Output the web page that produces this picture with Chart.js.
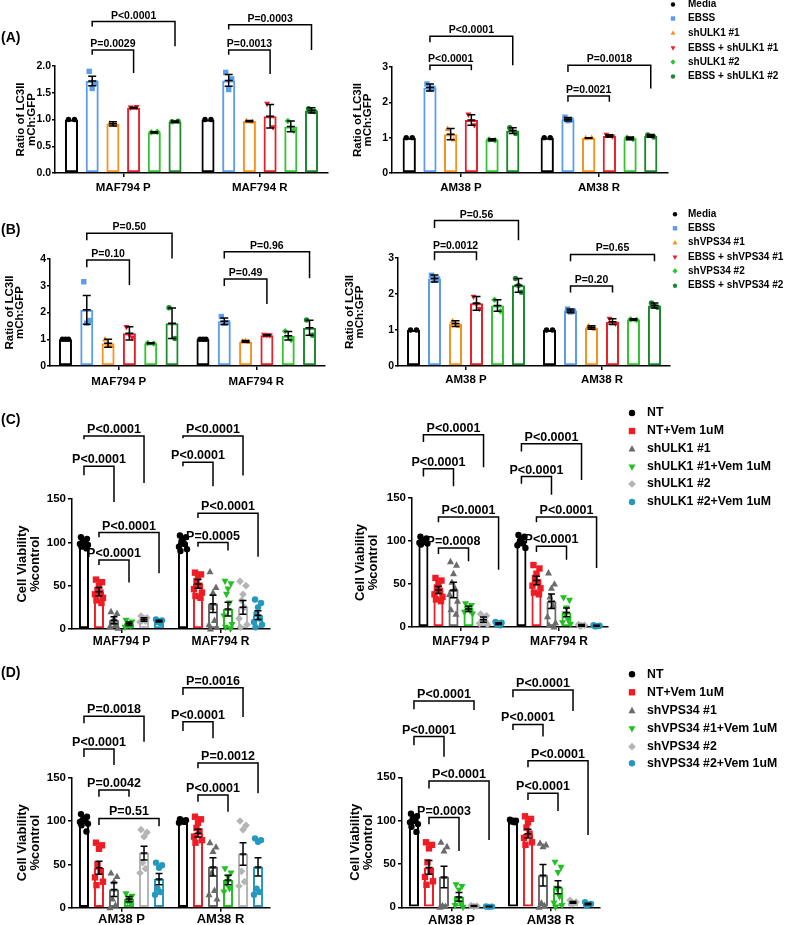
<!DOCTYPE html>
<html>
<head>
<meta charset="utf-8">
<script src="https://cdn.jsdelivr.net/npm/chart.js@4.4.1/dist/chart.umd.min.js"></script>
<style>
  body { margin: 0; background: #fff; }
  #fig { position: relative; width: 788px; height: 925px; background: #fff; overflow: hidden; }
  canvas { position: absolute; }
</style>
</head>
<body>
<div id="fig">
  <canvas id="a1" width="335" height="200" style="left:0px;top:0px"></canvas>
  <canvas id="a2" width="453" height="200" style="left:335px;top:0px"></canvas>
  <canvas id="b1" width="335" height="195" style="left:0px;top:195px"></canvas>
  <canvas id="b2" width="453" height="195" style="left:335px;top:195px"></canvas>
  <canvas id="c1" width="330" height="260" style="left:0px;top:390px"></canvas>
  <canvas id="c2" width="458" height="260" style="left:330px;top:390px"></canvas>
  <canvas id="d1" width="330" height="275" style="left:0px;top:650px"></canvas>
  <canvas id="d2" width="458" height="275" style="left:330px;top:650px"></canvas>
</div>
<script>
const FONT = "'Liberation Sans', Arial, Helvetica, sans-serif";

// categories
const mafGroups = ['MAF794 P', 'MAF794 R'];
const amGroups = ['AM38 P', 'AM38 R'];

// series
const ulkRatioSeries = ['Media', 'EBSS', 'shULK1 #1', 'EBSS + shULK1 #1', 'shULK1 #2', 'EBSS + shULK1 #2'];
const vpsRatioSeries = ['Media', 'EBSS', 'shVPS34 #1', 'EBSS + shVPS34 #1', 'shVPS34 #2', 'EBSS + shVPS34 #2'];
const ulkViabSeries = ['NT', 'NT+Vem 1uM', 'shULK1 #1', 'shULK1 #1+Vem 1uM', 'shULK1 #2', 'shULK1 #2+Vem 1uM'];
const vpsViabSeries = ['NT', 'NT+Vem 1uM', 'shVPS34 #1', 'shVPS34 #1+Vem 1uM', 'shVPS34 #2', 'shVPS34 #2+Vem 1uM'];

// axis ticks
const ratioTicks2 = [0, 0.5, 1.0, 1.5, 2.0];
const ratioTicks3 = [0, 1, 2, 3];
const ratioTicks4 = [0, 1, 2, 3, 4];
const viabTicks = [0, 50, 100, 150];

// (A) MAF794, shULK1 -- rows = series, cols = [P, R]
const a1Means = [[1.00, 1.00], [1.72, 1.73], [0.92, 0.97], [1.22, 1.06], [0.76, 0.87], [0.96, 1.17]];
const a1Errors = [[0, 0], [0.09, 0.11], [0.04, 0.01], [0.01, 0.22], [0.01, 0.10], [0.01, 0.05]];
const a1Points = [
  [[1, 1], [1, 1]],
  [[1.90, 1.68, 1.58], [1.88, 1.76, 1.56]],
  [[0.93, 0.90], [0.97, 0.96]],
  [[1.22, 1.23], [1.29, 0.85]],
  [[0.76, 0.77], [0.97, 0.79]],
  [[0.96, 0.97], [1.20, 1.15, 1.16]]
];
const a1Brackets = [
  { g: 0, a: 1, b: 3, y: 2.30, ya: 2.21, yb: 1.87, text: 'P=0.0029' },
  { g: 0, a: 1, b: 5, y: 2.83, ya: 2.74, yb: 2.37, text: 'P<0.0001' },
  { g: 1, a: 1, b: 3, y: 2.30, ya: 2.21, yb: 1.85, text: 'P=0.0013' },
  { g: 1, a: 1, b: 5, y: 2.77, ya: 2.68, yb: 2.30, text: 'P=0.0003' }
];

// (A) AM38, shULK1
const a2Means = [[1.00, 1.00], [2.42, 1.52], [1.10, 0.99], [1.50, 1.05], [0.94, 0.98], [1.20, 1.05]];
const a2Errors = [[0, 0], [0.10, 0.05], [0.16, 0.01], [0.15, 0.03], [0.03, 0.04], [0.08, 0.04]];
const a2Points = [
  [[1, 1], [1, 1]],
  [[2.52, 2.40, 2.38], [1.58, 1.50, 1.48]],
  [[1.25, 0.95], [0.99, 1.00]],
  [[1.65, 1.35], [1.08, 1.03]],
  [[0.95, 0.93], [1.00, 0.96]],
  [[1.28, 1.12], [1.08, 1.02]]
];
const a2Brackets = [
  { g: 0, a: 1, b: 3, y: 3.05, ya: 2.91, yb: 2.91, text: 'P<0.0001' },
  { g: 0, a: 1, b: 5, y: 3.87, ya: 3.70, yb: 3.05, text: 'P<0.0001' },
  { g: 1, a: 1, b: 3, y: 2.18, ya: 2.02, yb: 2.02, text: 'P=0.0021' },
  { g: 1, a: 1, b: 5, y: 3.05, ya: 2.86, yb: 2.39, text: 'P=0.0018' }
];

// (B) MAF794, shVPS34
const b1Means = [[1.00, 1.00], [2.10, 1.67], [0.85, 0.92], [1.22, 1.15], [0.85, 1.13], [1.60, 1.43]];
const b1Errors = [[0, 0], [0.54, 0.12], [0.15, 0.03], [0.25, 0.02], [0.02, 0.16], [0.57, 0.28]];
const b1Points = [
  [[1, 1, 1], [1, 1, 1]],
  [[3.15, 1.70, 1.60], [1.85, 1.62, 1.60]],
  [[1.00, 0.75, 0.80], [0.93, 0.90, 0.94]],
  [[1.45, 1.05, 1.15], [1.16, 1.14, 1.15]],
  [[0.86, 0.84], [1.30, 0.98]],
  [[2.18, 1.03], [1.72, 1.15]]
];
const b1Brackets = [
  { g: 0, a: 1, b: 3, y: 3.96, ya: 3.69, yb: 3.03, text: 'P=0.10' },
  { g: 0, a: 1, b: 5, y: 4.96, ya: 4.70, yb: 4.02, text: 'P=0.50' },
  { g: 1, a: 1, b: 3, y: 3.25, ya: 2.99, yb: 2.32, text: 'P=0.49' },
  { g: 1, a: 1, b: 5, y: 4.27, ya: 4.02, yb: 3.28, text: 'P=0.96' }
];

// (B) AM38, shVPS34
const b2Means = [[1.00, 1.00], [2.43, 1.53], [1.18, 1.07], [1.74, 1.23], [1.68, 1.29], [2.24, 1.68]];
const b2Errors = [[0, 0], [0.10, 0.05], [0.08, 0.05], [0.19, 0.08], [0.16, 0.02], [0.19, 0.07]];
const b2Points = [
  [[1, 1], [1, 1]],
  [[2.52, 2.42, 2.38], [1.58, 1.52, 1.50]],
  [[1.25, 1.12], [1.11, 1.04]],
  [[1.92, 1.58, 1.72], [1.31, 1.17]],
  [[1.84, 1.52], [1.30, 1.28]],
  [[2.43, 2.05, 2.24], [1.75, 1.63, 1.66]]
];
const b2Brackets = [
  { g: 0, a: 1, b: 3, y: 3.17, ya: 2.94, yb: 2.94, text: 'P=0.0012' },
  { g: 0, a: 1, b: 5, y: 4.04, ya: 3.83, yb: 3.49, text: 'P=0.56' },
  { g: 1, a: 1, b: 3, y: 2.22, ya: 2.04, yb: 2.04, text: 'P=0.20' },
  { g: 1, a: 1, b: 5, y: 3.10, ya: 2.91, yb: 2.91, text: 'P=0.65' }
];

// (C) left, shULK1 viability
const c1Means = [[100, 100], [43, 52], [10, 29], [6, 23], [11, 25], [9, 16]];
const c1Errors = [[2, 4], [5, 5], [4, 10], [2, 8], [2, 8], [1, 5]];
const c1Points = [
  [[106, 104, 102, 100, 99, 98, 97, 95, 93], [108, 106, 104, 101, 98, 95, 92, 90]],
  [[57, 54, 50, 45, 42, 40, 36, 33, 30], [65, 63, 60, 55, 50, 46, 42, 38, 36]],
  [[20, 18, 12, 8, 5, 3, 1], [66, 48, 42, 25, 10, 5, 2, 0]],
  [[10, 8, 6, 4, 3, 2], [55, 52, 46, 40, 30, 15, 5, 2, 0]],
  [[15, 13, 12, 10, 9, 8], [55, 50, 40, 33, 25, 12, 5, 2]],
  [[11, 10, 9, 8, 7], [34, 30, 25, 18, 12, 8, 5, 2]]
];
const c1Brackets = [
  { g: 0, a: 0, b: 4, y: 222.7, ya: 218.8, yb: 168.5, text: 'P<0.0001' },
  { g: 0, a: 0, b: 2, y: 187.9, ya: 177.4, yb: 146.5, text: 'P<0.0001' },
  { g: 0, a: 1, b: 5, y: 111.3, ya: 106, yb: 64.2, text: 'P<0.0001' },
  { g: 0, a: 1, b: 3, y: 79.6, ya: 73.8, yb: 53.7, text: 'P<0.0001' },
  { g: 1, a: 0, b: 4, y: 222.7, ya: 220, yb: 177, text: 'P<0.0001' },
  { g: 1, a: 0, b: 2, y: 192.5, ya: 187.9, yb: 164.7, text: 'P<0.0001' },
  { g: 1, a: 1, b: 5, y: 133.7, ya: 128, yb: 83.5, text: 'P<0.0001' },
  { g: 1, a: 1, b: 3, y: 99.7, ya: 95, yb: 90.5, text: 'P=0.0005' }
];

// (C) right, shULK1 viability
const c2Means = [[100, 100], [43, 54], [43, 30], [21, 17], [8.5, 2], [4, 1.5]];
const c2Errors = [[2, 3], [4, 5], [9, 8.5], [3, 5], [3, 1], [1, 0.5]];
const c2Points = [
  [[105, 103, 101, 100, 99, 98, 97, 96], [107, 105, 103, 100, 97, 95, 92]],
  [[57, 54, 50, 46, 42, 38, 35, 32, 30], [72, 68, 62, 57, 52, 48, 45, 40, 38]],
  [[76, 72, 62, 52, 45, 38, 30, 20, 15], [63, 50, 45, 35, 25, 12, 5, 2, 0]],
  [[27, 25, 23, 21, 19, 17, 15], [34, 31, 22, 15, 8, 5, 3]],
  [[15, 13, 10, 8, 6, 4, 3], [3, 2, 1.5, 1]],
  [[6, 5, 4, 3, 2], [2, 1.5, 1, 0.8]]
];
const c2Brackets = [
  { g: 0, a: 0, b: 4, y: 223.6, ya: 215, yb: 185.7, text: 'P<0.0001' },
  { g: 0, a: 0, b: 2, y: 184, ya: 175, yb: 163.6, text: 'P<0.0001' },
  { g: 0, a: 1, b: 5, y: 128, ya: 121.7, yb: 66.7, text: 'P<0.0001' },
  { g: 0, a: 1, b: 3, y: 91.9, ya: 85, yb: 76.4, text: 'P=0.0008' },
  { g: 1, a: 0, b: 4, y: 213, ya: 204, yb: 171, text: 'P<0.0001' },
  { g: 1, a: 0, b: 2, y: 175, ya: 166.7, yb: 153.9, text: 'P<0.0001' },
  { g: 1, a: 1, b: 5, y: 128, ya: 121.7, yb: 68.6, text: 'P<0.0001' },
  { g: 1, a: 1, b: 3, y: 93.8, ya: 87.2, yb: 78.3, text: 'P<0.0001' }
];

// (D) left, shVPS34 viability
const d1Means = [[100, 100], [46, 86], [21, 47], [10, 32], [63, 62], [33, 47]];
const d1Errors = [[3, 1], [7.5, 4.5], [8, 10.5], [3, 5.5], [8, 13], [6.5, 10.5]];
const d1Points = [
  [[108, 105, 103, 101, 100, 99, 97, 95, 88], [102, 101, 100, 100, 99, 98]],
  [[75, 72, 68, 50, 42, 35, 30, 26], [105, 102, 98, 92, 88, 82, 78, 75]],
  [[40, 36, 30, 10, 3, 0], [75, 70, 65, 40, 20, 15, 10]],
  [[16, 13, 10, 7, 5], [45, 40, 35, 28, 22, 18]],
  [[90, 87, 82, 52, 45, 40], [100, 95, 90, 42, 30, 25]],
  [[52, 49, 46, 22, 18, 15], [80, 78, 76, 22, 18, 15]]
];
const d1Brackets = [
  { g: 0, a: 0, b: 4, y: 221, ya: 212.7, yb: 191.5, text: 'P=0.0018' },
  { g: 0, a: 0, b: 2, y: 183, ya: 174, yb: 164.6, text: 'P<0.0001' },
  { g: 0, a: 1, b: 3, y: 135.8, ya: 128, yb: 128, text: 'P=0.0042' },
  { g: 0, a: 1, b: 5, y: 103, ya: 95.4, yb: 94, text: 'P=0.51' },
  { g: 1, a: 0, b: 4, y: 253.8, ya: 245.4, yb: 220, text: 'P=0.0016' },
  { g: 1, a: 0, b: 2, y: 214.6, ya: 204, yb: 195.4, text: 'P<0.0001' },
  { g: 1, a: 1, b: 5, y: 167, ya: 160.8, yb: 132, text: 'P=0.0012' },
  { g: 1, a: 1, b: 3, y: 130, ya: 122.3, yb: 110.8, text: 'P<0.0001' }
];

// (D) right, shVPS34 viability
const d2Means = [[100, 100], [46, 85], [35, 37], [12, 23], [1.5, 5.8], [0.8, 3.8]];
const d2Errors = [[3, 1], [8, 5], [12.5, 12.5], [5, 7.5], [0.5, 1], [0.3, 1]];
const d2Points = [
  [[108, 105, 103, 101, 100, 98, 96, 93, 87], [101, 100, 100, 99, 98]],
  [[75, 72, 68, 52, 42, 35, 30, 26], [105, 102, 98, 92, 85, 80, 75, 72]],
  [[75, 70, 65, 2, 1, 0], [74, 72, 70, 5, 2, 0]],
  [[26, 24, 20, 10, 5, 2, 0], [52, 46, 40, 22, 12, 5, 2, 0]],
  [[2, 1.5, 1], [8, 6, 5, 4]],
  [[1, 0.8, 0.5], [6, 4, 3, 2]]
];
const d2Brackets = [
  { g: 0, a: 0, b: 4, y: 238, ya: 228.5, yb: 227.7, text: 'P<0.0001' },
  { g: 0, a: 0, b: 2, y: 197, ya: 187, yb: 173.8, text: 'P<0.0001' },
  { g: 0, a: 1, b: 5, y: 145.8, ya: 137, yb: 77.7, text: 'P<0.0001' },
  { g: 0, a: 1, b: 3, y: 103.5, ya: 95.8, yb: 65, text: 'P=0.0003' },
  { g: 1, a: 0, b: 4, y: 250.8, ya: 242.3, yb: 226.5, text: 'P<0.0001' },
  { g: 1, a: 0, b: 2, y: 211, ya: 204.6, yb: 197, text: 'P<0.0001' },
  { g: 1, a: 1, b: 5, y: 169, ya: 161.5, yb: 83.5, text: 'P<0.0001' },
  { g: 1, a: 1, b: 3, y: 131.5, ya: 123.8, yb: 111, text: 'P<0.0001' }
];

// Styles
const ratioColors = ['#000000', '#5b9ded', '#f6921e', '#e8202a', '#33c433', '#1b8a2e'];
const viabColors = ['#000000', '#ee1c24', '#6b6b6b', '#22c022', '#b4b4b4', '#2698bd'];
const markerStyles = ['circle', 'rect', 'triangle', 'triangleDown', 'rectRot', 'circle'];
const ratioTitle = ['Ratio of LC3II', 'mCh:GFP'];
const viabTitle = ['Cell Viability', '%control'];

function drawMarker(ctx, style, x, y, r, color) {
  ctx.fillStyle = color;
  ctx.beginPath();
  if (style === 'rect') {
    ctx.rect(x - r, y - r, 2 * r, 2 * r);
  } else if (style === 'triangle') {
    ctx.moveTo(x, y - r * 1.2); ctx.lineTo(x + r * 1.1, y + r * 0.8); ctx.lineTo(x - r * 1.1, y + r * 0.8); ctx.closePath();
  } else if (style === 'triangleDown') {
    ctx.moveTo(x, y + r * 1.2); ctx.lineTo(x + r * 1.1, y - r * 0.8); ctx.lineTo(x - r * 1.1, y - r * 0.8); ctx.closePath();
  } else if (style === 'rectRot') {
    ctx.moveTo(x, y - r * 1.2); ctx.lineTo(x + r * 1.2, y); ctx.lineTo(x, y + r * 1.2); ctx.lineTo(x - r * 1.2, y); ctx.closePath();
  } else {
    ctx.arc(x, y, r, 0, Math.PI * 2);
  }
  ctx.fill();
}

// dots, SEM bars, significance brackets, legend and panel tag
function overlay(d, look) {
  return {
    id: 'overlay',
    afterDatasetsDraw(chart) {
      const ctx = chart.ctx;
      const ys = chart.scales.y;
      ctx.save();
      d.points.forEach((groups, s) => {
        const meta = chart.getDatasetMeta(s);
        groups.forEach((vals, g) => {
          const bar = meta.data[g];
          vals.forEach((v, k) => {
            drawMarker(ctx, look.markers[s], bar.x + look.jitter[k % look.jitter.length], ys.getPixelForValue(v), look.pointR, look.colors[s]);
          });
        });
      });
      ctx.strokeStyle = '#000';
      ctx.lineWidth = 1.5;
      d.errors.forEach((errs, s) => {
        const meta = chart.getDatasetMeta(s);
        errs.forEach((e, g) => {
          if (!e) return;
          const x = meta.data[g].x;
          const m = d.means[s][g];
          const top = ys.getPixelForValue(m + e);
          const bot = ys.getPixelForValue(m - e);
          const mid = ys.getPixelForValue(m);
          ctx.beginPath();
          ctx.moveTo(x, top); ctx.lineTo(x, bot);
          ctx.moveTo(x - look.cap, top); ctx.lineTo(x + look.cap, top);
          ctx.moveTo(x - look.cap, bot); ctx.lineTo(x + look.cap, bot);
          ctx.moveTo(x - look.cap, mid); ctx.lineTo(x + look.cap, mid);
          ctx.stroke();
        });
      });
      ctx.font = 'bold ' + look.pFont + 'px ' + FONT;
      ctx.fillStyle = '#000';
      ctx.textAlign = 'center';
      ctx.textBaseline = 'alphabetic';
      d.brackets.forEach(b => {
        const xa = chart.getDatasetMeta(b.a).data[b.g].x;
        const xb = chart.getDatasetMeta(b.b).data[b.g].x;
        const py = ys.getPixelForValue(b.y);
        ctx.beginPath();
        ctx.moveTo(xa, ys.getPixelForValue(b.ya));
        ctx.lineTo(xa, py);
        ctx.lineTo(xb, py);
        ctx.lineTo(xb, ys.getPixelForValue(b.yb));
        ctx.stroke();
        ctx.fillText(b.text, (xa + xb) / 2, py - 3);
      });
      ctx.restore();
    },
    afterDraw(chart) {
      const ctx = chart.ctx;
      ctx.save();
      if (look.legend) {
        const lg = look.legend;
        ctx.font = 'bold ' + lg.font + 'px ' + FONT;
        ctx.textAlign = 'left';
        ctx.textBaseline = 'middle';
        chart.data.datasets.forEach((ds, i) => {
          drawMarker(ctx, look.markers[i], lg.x, lg.rows[i], lg.r, look.colors[i]);
          ctx.fillStyle = '#000';
          ctx.fillText(ds.label, lg.tx, lg.rows[i]);
        });
      }
      if (look.tag) {
        ctx.font = 'bold 14px ' + FONT;
        ctx.fillStyle = '#000';
        ctx.textAlign = 'left';
        ctx.textBaseline = 'middle';
        ctx.fillText(look.tag.text, look.tag.x, look.tag.y);
      }
      ctx.restore();
    }
  };
}

function makePanel(id, d, look) {
  const cv = document.getElementById(id);
  const p = look.plot;
  return new Chart(cv, {
    type: 'bar',
    data: {
      labels: d.groups,
      datasets: d.series.map((name, i) => ({
        label: name,
        data: d.means[i],
        backgroundColor: 'rgba(255,255,255,0)',
        borderColor: look.colors[i],
        borderWidth: 2,
        borderSkipped: false,
        categoryPercentage: look.catPct,
        barPercentage: look.barPct
      }))
    },
    options: {
      responsive: false,
      animation: false,
      events: [],
      layout: { padding: { left: p.l - look.yWidth, top: p.t, right: cv.width - p.r, bottom: cv.height - p.b - look.xHeight } },
      plugins: { legend: { display: false }, tooltip: { enabled: false } },
      scales: {
        x: {
          grid: { offset: false, drawOnChartArea: false, color: '#000', lineWidth: 1.5, tickLength: 4 },
          border: { color: '#000', width: 1.5 },
          ticks: { color: '#000', padding: look.xPad, maxRotation: 0, font: { family: FONT, size: look.xFont, weight: 'bold' } },
          afterFit: s => { s.height = look.xHeight; }
        },
        y: {
          min: d.ticks[0],
          max: d.ticks[d.ticks.length - 1],
          afterBuildTicks: s => { s.ticks = d.ticks.map(v => ({ value: v })); },
          grid: { drawOnChartArea: false, color: '#000', lineWidth: 1.5, tickLength: look.yTickLen },
          border: { color: '#000', width: 1.5 },
          ticks: {
            color: '#000', padding: look.yTickPad,
            font: { family: FONT, size: look.tickFont, weight: 'bold' },
            callback: v => look.decimals ? Number(v).toFixed(look.decimals) : String(v)
          },
          title: { display: true, text: d.yTitle, color: '#000', padding: 0, font: { family: FONT, size: look.titleFont, weight: 'bold', lineHeight: look.titleLh } },
          afterFit: s => { s.width = look.yWidth; }
        }
      }
    },
    plugins: [overlay(d, look)]
  });
}

const ratioLook = { colors: ratioColors, markers: markerStyles, pointR: 2.7, jitter: [-3, 3, 0], cap: 4, pFont: 10.5, xFont: 11.5, tickFont: 10.5, titleFont: 11.5, titleLh: 0.9, yTickLen: 3, yTickPad: 1, xHeight: 24 };
const viabLook = { colors: viabColors, markers: markerStyles, pointR: 3.2, jitter: [-3, 3, 0, -1.5, 1.5, -4, 4, -2.5, 2.5], cap: 3.5, pFont: 12.5, tickFont: 11.5, titleFont: 13, titleLh: 1, yTickLen: 4, yTickPad: 2, catPct: 0.91, barPct: 0.67 };

makePanel('a1', { groups: mafGroups, series: ulkRatioSeries, means: a1Means, errors: a1Errors, points: a1Points, brackets: a1Brackets, ticks: ratioTicks2, yTitle: ratioTitle },
  Object.assign({}, ratioLook, { plot: { l: 55, t: 66, r: 328, b: 173 }, yWidth: 39, xPad: 3.5, decimals: 1, catPct: 0.91, barPct: 0.63, tag: { text: '(A)', x: 1, y: 38 } }));

makePanel('a2', { groups: amGroups, series: ulkRatioSeries, means: a2Means, errors: a2Errors, points: a2Points, brackets: a2Brackets, ticks: ratioTicks3, yTitle: ratioTitle },
  Object.assign({}, ratioLook, { plot: { l: 57, t: 67, r: 333, b: 173 }, yWidth: 39.2, xPad: 3.5, catPct: 0.9, barPct: 0.64,
    legend: { x: 338, tx: 353, rows: [4.5, 18.5, 33, 48, 62, 76.5], font: 10, r: 2.2 } }));

makePanel('b1', { groups: mafGroups, series: vpsRatioSeries, means: b1Means, errors: b1Errors, points: b1Points, brackets: b1Brackets, ticks: ratioTicks4, yTitle: ratioTitle },
  Object.assign({}, ratioLook, { plot: { l: 50, t: 64, r: 325, b: 171 }, yWidth: 45.2, xPad: 5, catPct: 0.93, barPct: 0.61, tag: { text: '(B)', x: 1, y: 35 } }));

makePanel('b2', { groups: amGroups, series: vpsRatioSeries, means: b2Means, errors: b2Errors, points: b2Points, brackets: b2Brackets, ticks: ratioTicks3, yTitle: ratioTitle },
  Object.assign({}, ratioLook, { plot: { l: 63, t: 63, r: 335, b: 171 }, yWidth: 53.2, xPad: 2.5, catPct: 0.926, barPct: 0.62,
    legend: { x: 340, tx: 353, rows: [19.3, 33.3, 47.7, 62.3, 76, 90.7], font: 10, r: 2.2 } }));

makePanel('c1', { groups: mafGroups, series: ulkViabSeries, means: c1Means, errors: c1Errors, points: c1Points, brackets: c1Brackets, ticks: viabTicks, yTitle: viabTitle },
  Object.assign({}, viabLook, { plot: { l: 72, t: 109, r: 270, b: 239 }, yWidth: 56.5, xHeight: 20, xPad: 1.5, xFont: 12, tag: { text: '(C)', x: 1, y: 30 } }));

makePanel('c2', { groups: mafGroups, series: ulkViabSeries, means: c2Means, errors: c2Errors, points: c2Points, brackets: c2Brackets, ticks: viabTicks, yTitle: viabTitle },
  Object.assign({}, viabLook, { plot: { l: 82, t: 108, r: 278, b: 237 }, yWidth: 58.5, xHeight: 20, xPad: 3.5, xFont: 12, catPct: 0.92,
    legend: { x: 302, tx: 317, rows: [23, 41, 59, 77, 94, 112], font: 12.3, r: 3.2 } }));

makePanel('d1', { groups: amGroups, series: vpsViabSeries, means: d1Means, errors: d1Errors, points: d1Points, brackets: d1Brackets, ticks: viabTicks, yTitle: viabTitle },
  Object.assign({}, viabLook, { plot: { l: 72, t: 127.7, r: 270, b: 257.7 }, yWidth: 56.5, xHeight: 17, xPad: 0, xFont: 13, tag: { text: '(D)', x: 1, y: 23 } }));

makePanel('d2', { groups: amGroups, series: vpsViabSeries, means: d2Means, errors: d2Errors, points: d2Points, brackets: d2Brackets, ticks: viabTicks, yTitle: viabTitle },
  Object.assign({}, viabLook, { plot: { l: 72, t: 127.3, r: 270, b: 257.3 }, yWidth: 53.5, xHeight: 17, xPad: 1, xFont: 13,
    legend: { x: 302, tx: 317, rows: [24.3, 42.3, 60.7, 78.7, 96.7, 113.3], font: 12.3, r: 3.2 } }));
</script>
</body>
</html>
